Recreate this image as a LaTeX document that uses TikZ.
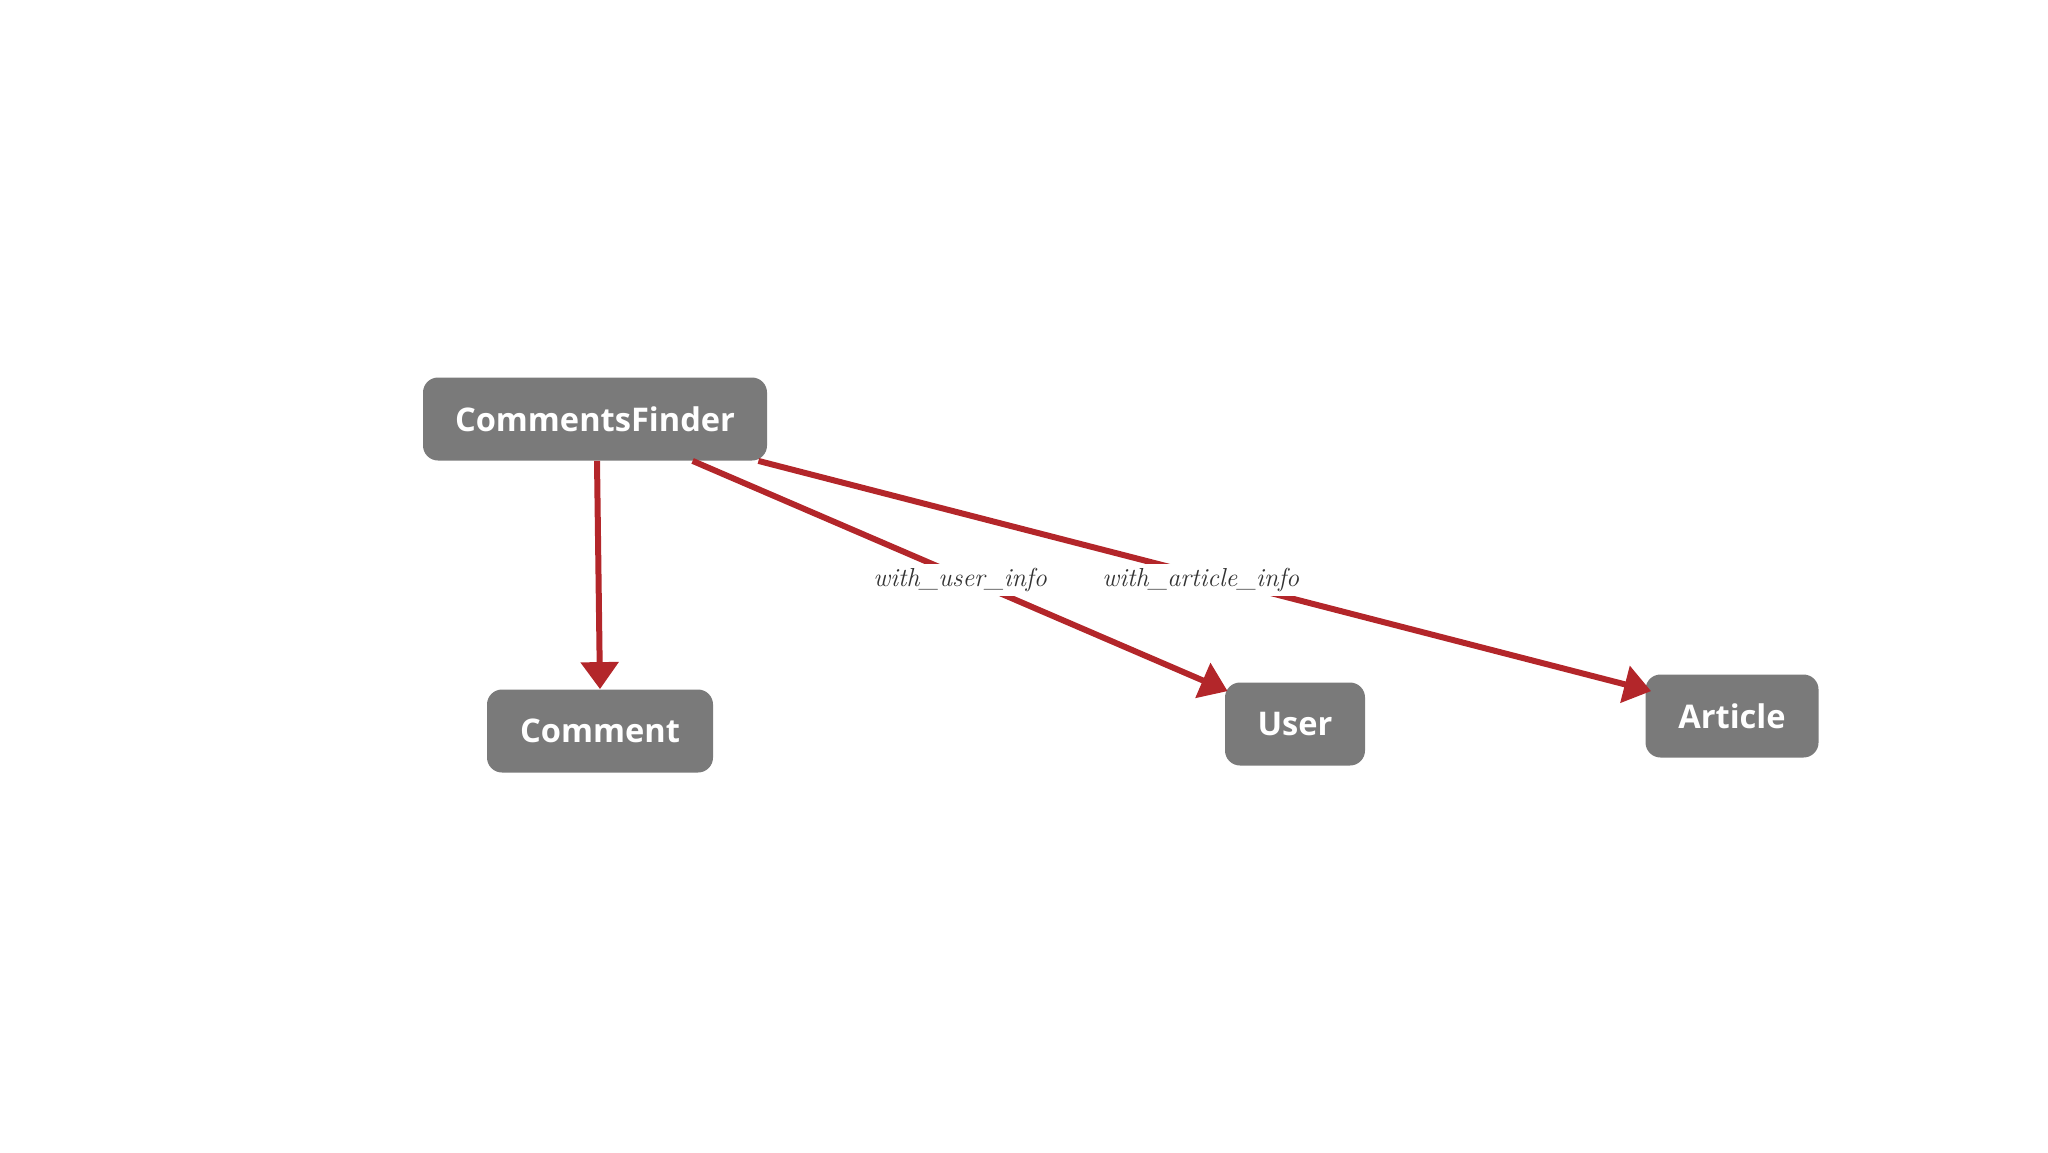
\documentclass[tikz,border=0pt]{standalone}
\usepackage{fontspec}
\newfontfamily\nodefont{Open Sans}
\usetikzlibrary{arrows.meta,calc}
\definecolor{boxgrey}{HTML}{7A7A7A}
\definecolor{arrred}{HTML}{B3262A}
\tikzset{
  cls/.style={draw=none, fill=boxgrey, rounded corners=7.5pt, text=white,
    font=\nodefont\bfseries\fontsize{16.3}{19}\selectfont, minimum height=41.5pt, inner sep=0pt},
  rel/.style={draw=arrred, line width=3pt, -{Triangle[length=13.5pt,width=18.5pt]}},
  lbl/.style={fill=white, inner sep=2pt, text=black!80, font=\itshape\fontsize{13}{15}\selectfont}
}
\begin{document}
\begin{tikzpicture}[x=1pt,y=1pt]
\useasboundingbox (0,0) rectangle (1024,-576);
\node[cls, minimum width=172pt] (cf) at (297.5,-209.5) {CommentsFinder};
\node[cls, minimum width=113pt] (comment) at (300,-365.5) {Comment};
\node[cls, minimum width=70pt] (user) at (647.5,-362) {User};
\node[cls, minimum width=86.5pt] (article) at (866,-358) {Article};
\draw[rel] ([xshift=1pt]cf.south) -- (comment.north);
\draw[rel] ($(cf.south west)+(135,0)$) -- ([xshift=1.5pt,yshift=-4.5pt]user.north west)
  node[lbl, pos=0.5, yshift=-2pt] {with\_user\_info};
\draw[rel] ([xshift=-4.5pt]cf.south east) -- ([xshift=3pt,yshift=-8.5pt]article.north west)
  node[lbl, pos=0.5, xshift=-2pt, yshift=-2pt] {with\_article\_info};
\end{tikzpicture}
\end{document}
